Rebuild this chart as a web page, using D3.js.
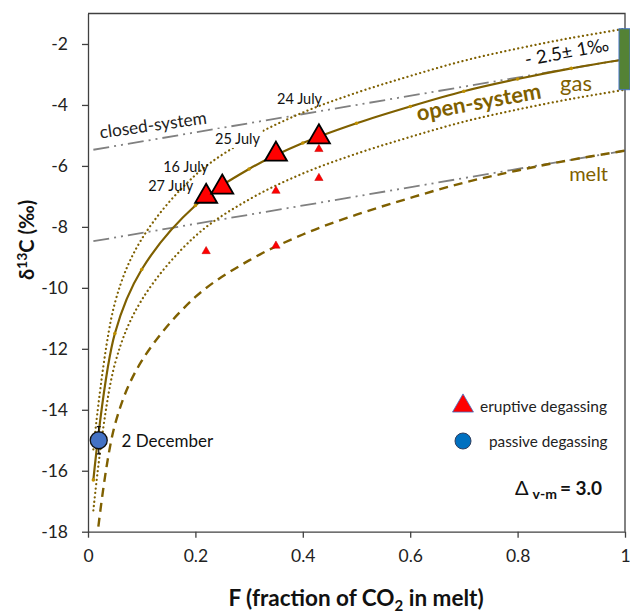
<!DOCTYPE html>
<html>
<head>
<meta charset="utf-8">
<script src="https://cdn.jsdelivr.net/npm/d3@7"></script>
<style>
  body { margin: 0; background: #fff; }
  svg { font-family: Lato, "Open Sans", sans-serif; }
  .axis path, .axis line { stroke: #404040; stroke-width: 1.3; }
  .axis text { font-size: 17.5px; fill: #222; font-family: Lato, "Open Sans", sans-serif; }
</style>
</head>
<body>
<svg id="chart" width="630" height="616"></svg>
<script>

// datos

var F = [0.01, 0.05, 0.1, 0.2, 0.3, 0.4, 0.5, 0.6, 0.7, 0.8, 0.9, 1.0];

// gas en sistema abierto (linea solida con marcadores)
var gasOpen = [-16.3, -11.5, -9.4, -7.3, -6.1, -5.25, -4.6, -4.05, -3.55, -3.15, -2.8, -2.5];

// bandas de +/- 1 permil (lineas punteadas)
var gasUpper = [-15.3, -10.5, -8.4, -6.3, -5.1, -4.25, -3.6, -3.05, -2.55, -2.15, -1.8, -1.5];
var gasLower = [-17.3, -12.5, -10.4, -8.3, -7.1, -6.25, -5.6, -5.05, -4.55, -4.15, -3.8, -3.5];

// fundido (linea de trazos)
var meltOpen = [-19.3, -14.5, -12.4, -10.3, -9.1, -8.25, -7.6, -7.05, -6.55, -6.15, -5.8, -5.5];

// sistema cerrado (rectas)
var closedF = [0.01, 1.0];
var closedGas = [-5.47, -2.5];
var closedMelt = [-8.47, -5.5];

// degasificacion eruptiva
var eruptF = [0.22, 0.25, 0.35, 0.43];
var eruptD = [-7.0, -6.7, -5.62, -5.05];
var eruptLabel = ["27 July", "16 July", "25 July", "24 July"];

// valores secundarios (triangulos pequenos)
var smallF = [0.22, 0.35, 0.35, 0.43, 0.43];
var smallD = [-8.8, -6.82, -8.62, -6.4, -5.45];

// degasificacion pasiva
var passF = [0.02];
var passD = [-15.0];
var passErr = [0.45];

// rango del gas en F = 1
var gasRange = [-3.5, -1.5];

var xTicks = [0, 0.2, 0.4, 0.6, 0.8, 1];
var yTicks = [-18, -16, -14, -12, -10, -8, -6, -4, -2];

///////////////////////////////////////////////////////////

var gold = "#7f6000";
var grey = "#808080";

var svg = d3.select("#chart");

var xScale = d3.scaleLinear().domain([0, 1]).range([88, 625]);
var yScale = d3.scaleLinear().domain([-18, -1]).range([531.7, 13.5]);

// clip para el area del grafico
svg.append("clipPath").attr("id", "clip")
   .append("rect")
   .attr("x", xScale(0)).attr("y", yScale(-1))
   .attr("width", xScale(1) - xScale(0))
   .attr("height", yScale(-18) - yScale(-1));

function pares(xs, ys) {
    return xs.map(function(d, i) { return {f: d, v: ys[i]}; });
}

var curva = d3.line()
    .x(function(d) { return xScale(d.f); })
    .y(function(d) { return yScale(d.v); })
    .curve(d3.curveCatmullRom.alpha(0.5));

var recta = d3.line()
    .x(function(d) { return xScale(d.f); })
    .y(function(d) { return yScale(d.v); });

var plot = svg.append("g").attr("clip-path", "url(#clip)");

// sistema cerrado
[closedGas, closedMelt].forEach(function(arr) {
    plot.append("path")
        .datum(pares(closedF, arr))
        .attr("d", recta)
        .attr("fill", "none")
        .attr("stroke", grey)
        .attr("stroke-width", 1.8)
        .attr("stroke-dasharray", "16,5,2,5,2,5");
});

// punteadas
[gasUpper, gasLower].forEach(function(arr) {
    plot.append("path")
        .datum(pares(F, arr))
        .attr("d", curva)
        .attr("fill", "none")
        .attr("stroke", gold)
        .attr("stroke-width", 2.2)
        .attr("stroke-linecap", "round")
        .attr("stroke-dasharray", "0.1,4.3");
});

// fundido
plot.append("path")
    .datum(pares(F, meltOpen))
    .attr("d", curva)
    .attr("fill", "none")
    .attr("stroke", gold)
    .attr("stroke-width", 2.4)
    .attr("stroke-dasharray", "9,6");

// gas sistema abierto
plot.append("path")
    .datum(pares(F, gasOpen))
    .attr("d", curva)
    .attr("fill", "none")
    .attr("stroke", gold)
    .attr("stroke-width", 2.2);

plot.selectAll(".mk")
    .data(pares(F, gasOpen))
    .enter().append("circle")
    .attr("cx", function(d) { return xScale(d.f); })
    .attr("cy", function(d) { return yScale(d.v); })
    .attr("r", 1.8)
    .attr("fill", "#bf9000");

// ejes

var xAxis = d3.axisBottom(xScale).tickValues(xTicks)
    .tickFormat(function(d) { return d === 0 ? "0" : d === 1 ? "1" : d3.format(".1f")(d); })
    .tickSizeInner(6).tickSizeOuter(0).tickPadding(12);

var yAxis = d3.axisLeft(yScale).tickValues(yTicks)
    .tickFormat(function(d) { return d; })
    .tickSizeInner(6).tickSizeOuter(0).tickPadding(14);

svg.append("g").attr("class", "axis")
   .attr("transform", "translate(0," + yScale(-18) + ")")
   .call(xAxis);

svg.append("g").attr("class", "axis")
   .attr("transform", "translate(" + xScale(0) + ",0)")
   .call(yAxis);

// marco superior y derecho
svg.append("path")
   .attr("d", "M" + xScale(0) + "," + yScale(-1) + "H" + xScale(1) + "V" + yScale(-18))
   .attr("fill", "none")
   .attr("stroke", "#404040")
   .attr("stroke-width", 1.3);

// barra verde
svg.append("rect")
   .attr("x", xScale(1) - 6)
   .attr("y", yScale(gasRange[1]))
   .attr("width", 11)
   .attr("height", yScale(gasRange[0]) - yScale(gasRange[1]))
   .attr("fill", "#548235")
   .attr("stroke", "#4472c4")
   .attr("stroke-width", 1);

// etiquetas de fechas (con fondo blanco)
var fechaPos = [[0.112, -6.82], [0.140, -6.20], [0.2365, -5.28], [0.352, -3.97]];
eruptLabel.forEach(function(t, i) {
    var g = svg.append("g");
    var txt = g.append("text")
        .attr("x", xScale(fechaPos[i][0]))
        .attr("y", yScale(fechaPos[i][1]))
        .attr("font-size", "14.5px")
        .attr("fill", "#111")
        .text(t);
    if (t === "25 July") {
        var b = txt.node().getBBox();
        g.insert("rect", "text")
         .attr("x", b.x - 2).attr("y", b.y - 1)
         .attr("width", b.width + 4).attr("height", b.height + 2)
         .attr("fill", "#fff");
    }
});

// triangulos pequenos
var tri = d3.symbol().type(d3.symbolTriangle);

svg.selectAll(".small")
   .data(pares(smallF, smallD))
   .enter().append("path")
   .attr("transform", function(d) { return "translate(" + xScale(d.f) + "," + yScale(d.v) + ")"; })
   .attr("d", tri.size(30)())
   .attr("fill", "#ff0000")
   .attr("stroke", "#c00000")
   .attr("stroke-width", 0.5);

// triangulos grandes
svg.selectAll(".big")
   .data(pares(eruptF, eruptD))
   .enter().append("path")
   .attr("transform", function(d) { return "translate(" + xScale(d.f) + "," + yScale(d.v) + ")"; })
   .attr("d", tri.size(210)())
   .attr("fill", "#ff0000")
   .attr("stroke", "#000")
   .attr("stroke-width", 1.8)
   .attr("stroke-linejoin", "miter");

// barra de error y circulo azul
passF.forEach(function(f, i) {
    var cx = xScale(f);
    svg.append("path")
       .attr("d", "M" + cx + "," + yScale(passD[i] + passErr[i]) + "V" + yScale(passD[i] - passErr[i]) +
                  "M" + (cx - 2) + "," + yScale(passD[i] + passErr[i]) + "h4" +
                  "M" + (cx - 2) + "," + yScale(passD[i] - passErr[i]) + "h4")
       .attr("stroke", "#111")
       .attr("stroke-width", 1.2);
    svg.append("circle")
       .attr("cx", cx).attr("cy", yScale(passD[i]))
       .attr("r", 8.5)
       .attr("fill", "#4472c4")
       .attr("stroke", "#111")
       .attr("stroke-width", 1.3);
});

svg.append("text")
   .attr("x", 121.5).attr("y", 447)
   .attr("font-size", "17px").attr("fill", "#111")
   .text("2 December");

// textos de las curvas
svg.append("text")
   .attr("transform", "translate(418,121) rotate(-10.4)")
   .attr("font-size", "22px").attr("font-weight", "bold").attr("fill", gold)
   .text("open-system");

svg.append("text")
   .attr("x", xScale(0.879)).attr("y", yScale(-3.53))
   .attr("font-size", "22px").attr("fill", gold)
   .text("gas");

svg.append("text")
   .attr("x", xScale(0.896)).attr("y", yScale(-6.48))
   .attr("font-size", "20px").attr("fill", gold)
   .text("melt");

svg.append("text")
   .attr("transform", "translate(526,66) rotate(-10.5)")
   .attr("font-size", "18.5px").attr("fill", "#111")
   .text("- 2.5± 1‰");

svg.append("text")
   .attr("transform", "translate(100.5,138.5) rotate(-8)")
   .attr("font-size", "17.3px").attr("fill", "#222")
   .text("closed-system");

// leyenda
svg.append("path")
   .attr("transform", "translate(463,406)")
   .attr("d", tri.size(190)())
   .attr("fill", "#ff0000")
   .attr("stroke", "#4472c4")
   .attr("stroke-width", 0.8);
svg.append("text").attr("x", 480).attr("y", 411.5)
   .attr("font-size", "15.5px").attr("fill", "#222")
   .text("eruptive degassing");

svg.append("circle")
   .attr("cx", 463).attr("cy", 441).attr("r", 8)
   .attr("fill", "#0070c0").attr("stroke", "#2f3f5f").attr("stroke-width", 1);
svg.append("text").attr("x", 489).attr("y", 446.5)
   .attr("font-size", "15.3px").attr("fill", "#222")
   .text("passive degassing");

// Delta v-m
var delta = svg.append("text").attr("x", 515).attr("y", 495).attr("fill", "#111");
delta.append("tspan").attr("font-size", "20px").text("Δ");
delta.append("tspan").attr("font-size", "14px").attr("font-weight", "bold").attr("dx", 4).attr("dy", 4).text("v-m");
delta.append("tspan").attr("font-size", "19px").attr("font-weight", "bold").attr("dx", 3).attr("dy", -4).text("= 3.0");

// titulos de los ejes
var yl = svg.append("text")
   .attr("transform", "translate(34,240) rotate(-90)")
   .attr("text-anchor", "middle")
   .attr("font-size", "20px").attr("font-weight", "bold").attr("fill", "#111");
yl.append("tspan").text("δ");
yl.append("tspan").attr("font-size", "14px").attr("dy", -7).text("13");
yl.append("tspan").attr("dy", 7).text("C (‰)");

var xl = svg.append("text")
   .attr("x", 356).attr("y", 606)
   .attr("text-anchor", "middle")
   .attr("font-size", "22.5px").attr("font-weight", "bold").attr("fill", "#111");
xl.append("tspan").text("F (fraction of CO");
xl.append("tspan").attr("font-size", "15px").attr("dy", 5).text("2");
xl.append("tspan").attr("dy", -5).text(" in melt)");

</script>
</body>
</html>
